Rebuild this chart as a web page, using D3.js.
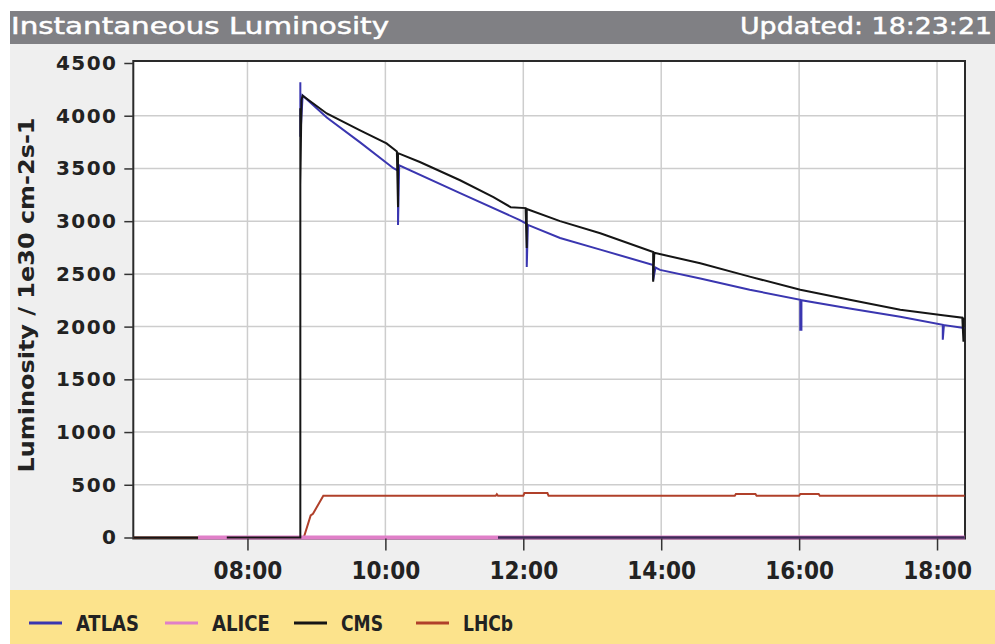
<!DOCTYPE html>
<html>
<head>
<meta charset="utf-8">
<script src="https://cdn.jsdelivr.net/npm/d3@7"></script>
<style>
  body { margin: 0; background: #fff; }
</style>
</head>
<body>
<div id="chart"></div>
<script>
// ---- data (time of day, luminosity 1e30 cm-2 s-1) ----
const yTicks = [0, 500, 1000, 1500, 2000, 2500, 3000, 3500, 4000, 4500];
const xTickLabels = ["08:00", "10:00", "12:00", "14:00", "16:00", "18:00"];
const timeRange = ["06:20:40", "18:24:20"];

const atlas = [
  ["08:46", 4318], ["08:46", 3800], ["08:48", 4192], ["09:09", 3983], ["09:38", 3747],
  ["10:07", 3502], ["10:11", 3480], ["10:11", 2963], ["10:12", 3530], ["11:05", 3266],
  ["11:57", 3010], ["12:03", 2975], ["12:03", 2566], ["12:04", 2965], ["12:32", 2840],
  ["13:07", 2730], ["13:53", 2585], ["13:53", 2440], ["13:55", 2560], ["13:59", 2538],
  ["14:34", 2456], ["15:17", 2350], ["16:01", 2254], ["16:01", 1970], ["16:02", 1970],
  ["16:02", 2250], ["16:44", 2172], ["17:28", 2094], ["18:05", 2018], ["18:05", 1876],
  ["18:06", 2015], ["18:22", 1990], ["18:24", 1985]
];
const alice = [["07:17", 0], ["18:24", 0]];
const cms = [
  ["06:21", 0], ["07:17", 0], ["07:17", null], ["07:42", 0], ["08:46", 0],
  ["08:46", 4070], ["08:46", 3340], ["08:47", 4150], ["08:48", 4190], ["09:09", 4021],
  ["09:38", 3861], ["10:01", 3737], ["10:10", 3660], ["10:11", 3133], ["10:11", 3645],
  ["10:30", 3561], ["11:05", 3388], ["11:34", 3228], ["11:49", 3133], ["12:02", 3124],
  ["12:03", 2745], ["12:03", 3115], ["12:32", 3000], ["13:07", 2885], ["13:53", 2708],
  ["13:53", 2425], ["13:54", 2700], ["14:34", 2601], ["15:17", 2474], ["16:01", 2349],
  ["16:44", 2254], ["17:28", 2160], ["18:05", 2108], ["18:22", 2084], ["18:23", 1857],
  ["18:23", 2075], ["18:24", 2065]
];
const lhcb = [
  ["06:21", 0], ["08:49", 0], ["08:55", 210], ["08:57", 225], ["09:06", 395],
  ["11:36", 395], ["11:37", 410], ["11:38", 395], ["12:00", 395], ["12:01", 421],
  ["12:21", 421], ["12:22", 395], ["15:04", 395], ["15:05", 412], ["15:22", 412],
  ["15:23", 395], ["16:00", 395], ["16:01", 412], ["16:17", 412], ["16:18", 395],
  ["18:24", 395]
];
// dark trace lying on zero after 11:38 (not in the legend)
const bottomTrace = [["11:38", 0], ["18:24", 0]];

const legendNames = ["ATLAS", "ALICE", "CMS", "LHCb"];
const legendColors = ["#3a36b0", "#e07fc8", "#151515", "#b0402a"];

// ---- drawing ----
const W = 995, H = 644;
const plotL = 133.3, plotR = 965, plotT = 61, plotB = 538.5;
const parseT = d3.timeParse("%H:%M");
const parseTS = d3.timeParse("%H:%M:%S");

const x = d3.scaleTime().domain(timeRange.map(parseTS)).range([plotL, plotR]);
const y = d3.scaleLinear().domain([0, 4500]).range([plotB - 1, 63]);

const svg = d3.select("#chart").append("svg")
  .attr("width", W).attr("height", H);

// panels
svg.append("rect").attr("x", 0).attr("y", 0).attr("width", W).attr("height", H).attr("fill", "#fff");
svg.append("rect").attr("x", 10).attr("y", 11).attr("width", W - 10).attr("height", 33).attr("fill", "#808084");
svg.append("rect").attr("x", 10).attr("y", 44).attr("width", W - 10).attr("height", 546).attr("fill", "#efefef");
svg.append("rect").attr("x", 10).attr("y", 590).attr("width", W - 10).attr("height", H - 590).attr("fill", "#fce38c");

svg.append("text").attr("x", 11).attr("y", 34)
  .attr("font-family", "DejaVu Sans").attr("font-size", 23).attr("fill", "#fff")
  .attr("stroke", "#fff").attr("stroke-width", 0.5)
  .attr("textLength", 378).attr("lengthAdjust", "spacingAndGlyphs")
  .text("Instantaneous Luminosity");
svg.append("text").attr("x", 992).attr("y", 34).attr("text-anchor", "end")
  .attr("font-family", "DejaVu Sans").attr("font-size", 23).attr("fill", "#fff")
  .attr("stroke", "#fff").attr("stroke-width", 0.5)
  .attr("textLength", 252).attr("lengthAdjust", "spacingAndGlyphs")
  .text("Updated: 18:23:21");

// plot area
svg.append("rect").attr("x", plotL).attr("y", plotT).attr("width", plotR - plotL).attr("height", plotB - plotT).attr("fill", "#fff");

const xTicks = xTickLabels.map(parseT);
const grid = svg.append("g").attr("stroke", "#cdcdcd").attr("stroke-width", 1.5);
grid.selectAll(".gx").data(xTicks).join("line")
  .attr("x1", d => x(d)).attr("x2", d => x(d)).attr("y1", plotT).attr("y2", plotB);
grid.selectAll(".gy").data(yTicks.filter(v => v > 0 && v < 4500)).join("line")
  .attr("x1", plotL).attr("x2", plotR).attr("y1", d => y(d)).attr("y2", d => y(d));

// frame (under the traces so the zero lines stay visible)
svg.append("rect").attr("x", plotL).attr("y", plotT).attr("width", plotR - plotL).attr("height", plotB - plotT)
  .attr("fill", "none").attr("stroke", "#2a2a2a").attr("stroke-width", 2);

const line = d3.line()
  .defined(d => d[1] !== null)
  .x(d => x(parseT(d[0])))
  .y(d => y(d[1]));

const series = [
  { data: lhcb, color: legendColors[3], w: 2 },
  { data: alice, color: legendColors[1], w: 4 },
  { data: bottomTrace, color: "#3e2b58", w: 2.5 },
  { data: atlas, color: legendColors[0], w: 2 },
  { data: cms, color: legendColors[2], w: 2 }
];
svg.append("g").selectAll("path").data(series).join("path")
  .attr("d", s => line(s.data))
  .attr("fill", "none")
  .attr("stroke", s => s.color)
  .attr("stroke-width", s => s.w);

// axes
const yAxis = svg.append("g").attr("transform", `translate(${plotL},0)`)
  .call(d3.axisLeft(y).tickValues(yTicks).tickFormat(d3.format("d")).tickSize(9).tickPadding(7));
yAxis.select(".domain").remove();
yAxis.selectAll("line").attr("stroke", "#333").attr("stroke-width", 1.5);
yAxis.selectAll("text").attr("font-family", "DejaVu Sans").attr("font-weight", "bold")
  .attr("font-size", 20).attr("letter-spacing", 1.4).attr("fill", "#222");

const xAxis = svg.append("g").attr("transform", `translate(0,${plotB})`)
  .call(d3.axisBottom(x).tickValues(xTicks).tickFormat(d3.timeFormat("%H:%M")).tickSize(12).tickPadding(11));
xAxis.select(".domain").remove();
xAxis.selectAll("line").attr("stroke", "#333").attr("stroke-width", 1.5);
xAxis.selectAll("text").attr("font-family", "DejaVu Sans Condensed").attr("font-weight", "bold")
  .attr("font-size", 24).attr("fill", "#222");

svg.append("text")
  .attr("transform", "translate(34,295) rotate(-90)")
  .attr("text-anchor", "middle")
  .attr("font-family", "DejaVu Sans").attr("font-weight", "bold").attr("font-size", 21).attr("fill", "#222")
  .attr("textLength", 355).attr("lengthAdjust", "spacingAndGlyphs")
  .text("Luminosity / 1e30 cm-2s-1");

// legend
const legendX = [29, 165, 294, 416];
const legendW = [63, 58, 42, 50];
const lg = svg.append("g");
legendNames.forEach((name, i) => {
  lg.append("line").attr("x1", legendX[i]).attr("x2", legendX[i] + 33)
    .attr("y1", 623).attr("y2", 623).attr("stroke", legendColors[i]).attr("stroke-width", 3);
  lg.append("text").attr("x", legendX[i] + 47).attr("y", 631)
    .attr("font-family", "DejaVu Sans Condensed").attr("font-weight", "bold").attr("font-size", 22)
    .attr("fill", "#222").attr("textLength", legendW[i]).attr("lengthAdjust", "spacingAndGlyphs")
    .text(name);
});
</script>
</body>
</html>
